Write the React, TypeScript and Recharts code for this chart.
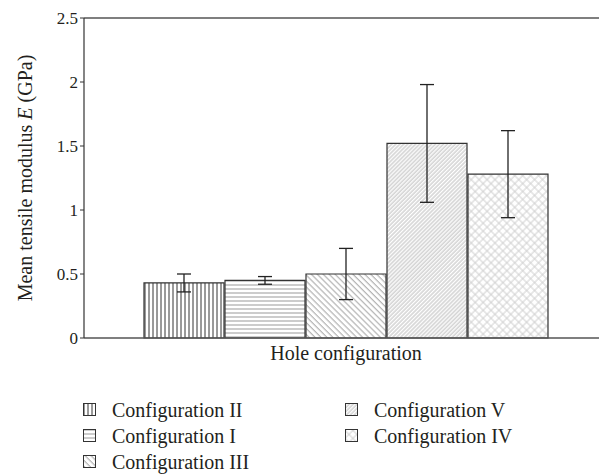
import { BarChart, Bar, XAxis, YAxis, ErrorBar, ReferenceLine } from "recharts";

const categories = ["Hole configuration"];
const seriesNames = ["Configuration II", "Configuration I", "Configuration III", "Configuration V", "Configuration IV"];
const seriesKeys = ["c2", "c1", "c3", "c5", "c4"];
const meanValues = [0.43, 0.45, 0.5, 1.52, 1.28];
const errorValues = [0.07, 0.03, 0.2, 0.46, 0.34];
const yTicks = [0, 0.5, 1, 1.5, 2, 2.5];
const patternIds = ["hVert", "hHoriz", "hBack", "hFwd", "hCross"];

const data = categories.map((name) => {
  const row: Record<string, string | number> = { name };
  seriesKeys.forEach((k, i) => {
    row[k] = meanValues[i];
    row[k + "Err"] = errorValues[i];
  });
  return row;
});

const FONT = "'Liberation Serif', 'Times New Roman', serif";
const INK = "#231f20";

function Patterns() {
  return (
    <defs>
      <pattern id="hVert" width="4" height="4" patternUnits="userSpaceOnUse">
        <line x1="1" y1="0" x2="1" y2="4" stroke="#333" strokeWidth="1" />
      </pattern>
      <pattern id="hHoriz" width="4" height="4" patternUnits="userSpaceOnUse">
        <line x1="0" y1="1" x2="4" y2="1" stroke="#999" strokeWidth="1" />
      </pattern>
      <pattern id="hBack" width="4.2" height="4.2" patternUnits="userSpaceOnUse" patternTransform="rotate(-45)">
        <line x1="1" y1="0" x2="1" y2="4.2" stroke="#999" strokeWidth="0.9" />
      </pattern>
      <pattern id="hFwd" width="2.8" height="2.8" patternUnits="userSpaceOnUse" patternTransform="rotate(45)">
        <line x1="1" y1="0" x2="1" y2="2.8" stroke="#aaa" strokeWidth="0.8" />
      </pattern>
      <pattern id="hCross" width="5.6" height="5.6" patternUnits="userSpaceOnUse" patternTransform="rotate(45)">
        <line x1="1" y1="0" x2="1" y2="5.6" stroke="#ccc" strokeWidth="0.9" />
        <line x1="0" y1="1" x2="5.6" y2="1" stroke="#ccc" strokeWidth="0.9" />
      </pattern>
    </defs>
  );
}

function YLabel(props: any) {
  const vb = props.viewBox || { x: 0, y: 18, width: 84, height: 320 };
  const cx = 25;
  const cy = vb.y + vb.height / 2;
  return (
    <text
      x={cx}
      y={cy}
      transform={`rotate(-90 ${cx} ${cy})`}
      textAnchor="middle"
      dominantBaseline="central"
      fontFamily={FONT}
      fontSize={20}
      fill={INK}
    >
      Mean tensile modulus <tspan fontStyle="italic">E</tspan> (GPa)
    </text>
  );
}

function LegendBlock() {
  const col1 = [0, 1, 2];
  const col2 = [3, 4];
  const item = (i: number) => (
    <div key={i} style={{ display: "flex", alignItems: "center", height: 26 }}>
      <svg width={14} height={14} style={{ marginRight: 15 }}>
        <Patterns />
        <rect x={0.5} y={0.5} width={12} height={12} fill={`url(#${patternIds[i]})`} stroke="#333" strokeWidth={1} />
      </svg>
      <span>{seriesNames[i]}</span>
    </div>
  );
  return (
    <div
      style={{
        position: "absolute",
        top: 397,
        left: 83,
        display: "flex",
        fontFamily: FONT,
        fontSize: 20,
        color: INK,
      }}
    >
      <div style={{ width: 262 }}>{col1.map(item)}</div>
      <div>{col2.map(item)}</div>
    </div>
  );
}

export default function App() {
  return (
    <div style={{ position: "absolute", left: 0, top: 0, width: 599, height: 476, overflow: "hidden", background: "#fff" }}>
      <BarChart
        width={620}
        height={476}
        data={data}
        margin={{ top: 18, right: 12, bottom: 108, left: 0 }}
        barCategoryGap="11.45%"
        barGap={1}
      >
        <Patterns />
        <XAxis
          dataKey="name"
          height={30}
          tickLine={false}
          axisLine={{ stroke: "#555", strokeWidth: 1.5 }}
          tick={{ fill: INK, fontSize: 20, fontFamily: FONT }}
          tickMargin={2}
        />
        <YAxis
          width={84}
          domain={[0, 2.5]}
          ticks={yTicks}
          tickSize={4}
          tickLine={{ stroke: "#333" }}
          axisLine={{ stroke: "#333", strokeWidth: 1.2 }}
          tick={{ fill: INK, fontSize: 17, fontFamily: FONT }}
          label={<YLabel />}
        />
        <ReferenceLine y={2.5} stroke="#555" strokeWidth={1.5} />
        {seriesKeys.map((k, i) => (
          <Bar
            key={k}
            dataKey={k}
            name={seriesNames[i]}
            fill={`url(#${patternIds[i]})`}
            stroke="#333"
            strokeWidth={1.2}
            isAnimationActive={false}
          >
            <ErrorBar dataKey={k + "Err"} width={7} stroke="#222" strokeWidth={1.3} />
          </Bar>
        ))}
      </BarChart>
      <LegendBlock />
    </div>
  );
}
